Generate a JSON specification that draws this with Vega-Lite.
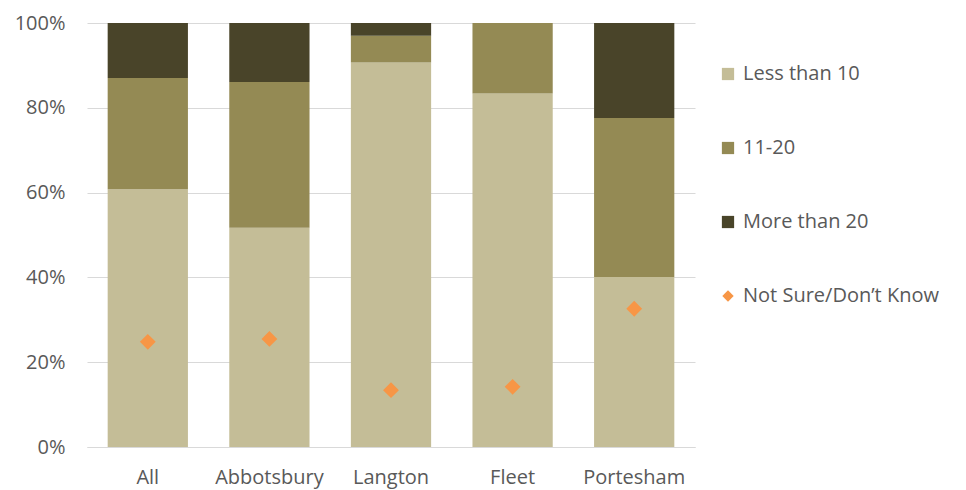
{
  "$schema": "https://vega.github.io/schema/vega-lite/v6.json",
  "autosize": "none",
  "width": 608,
  "height": 424,
  "padding": {"left": 87, "top": 23, "right": 271, "bottom": 43},
  "background": "white",
  "config": {
    "view": {"stroke": null},
    "font": "Open Sans",
    "axis": {"labelFont": "Open Sans", "labelColor": "#595959", "labelFontSize": 20}
  },
  "layer": [
    {
      "data": {"values": [
        {"area": "All", "series": "Less than 10", "k": 1, "value": 0.608},
        {"area": "All", "series": "11-20", "k": 2, "value": 0.262},
        {"area": "All", "series": "More than 20", "k": 3, "value": 0.130},
        {"area": "Abbotsbury", "series": "Less than 10", "k": 1, "value": 0.517},
        {"area": "Abbotsbury", "series": "11-20", "k": 2, "value": 0.344},
        {"area": "Abbotsbury", "series": "More than 20", "k": 3, "value": 0.139},
        {"area": "Langton", "series": "Less than 10", "k": 1, "value": 0.907},
        {"area": "Langton", "series": "11-20", "k": 2, "value": 0.063},
        {"area": "Langton", "series": "More than 20", "k": 3, "value": 0.030},
        {"area": "Fleet", "series": "Less than 10", "k": 1, "value": 0.834},
        {"area": "Fleet", "series": "11-20", "k": 2, "value": 0.166},
        {"area": "Fleet", "series": "More than 20", "k": 3, "value": 0.0},
        {"area": "Portesham", "series": "Less than 10", "k": 1, "value": 0.401},
        {"area": "Portesham", "series": "11-20", "k": 2, "value": 0.375},
        {"area": "Portesham", "series": "More than 20", "k": 3, "value": 0.224}
      ]},
      "mark": {"type": "bar"},
      "encoding": {
        "x": {"field": "area", "type": "nominal", "sort": null,
              "scale": {"paddingInner": 0.34, "paddingOuter": 0.17},
              "axis": {"title": null, "labelAngle": 0, "ticks": false, "domainColor": "#D9D9D9", "labelPadding": 20}},
        "y": {"field": "value", "type": "quantitative", "stack": true,
              "scale": {"domain": [0, 1], "nice": false},
              "axis": {"title": null, "format": ".0%", "values": [0, 0.2, 0.4, 0.6, 0.8, 1], "ticks": false, "domain": false, "gridColor": "#D9D9D9", "labelPadding": 22}},
        "order": {"field": "k", "type": "quantitative", "sort": "ascending"},
        "color": {"field": "series", "type": "nominal",
                  "scale": {"domain": ["Less than 10", "11-20", "More than 20", "Not Sure/Don’t Know"],
                            "range": ["#C4BD97", "#948A54", "#494429", "#F79646"]},
                  "legend": {"title": null, "orient": "none", "legendX": 631, "legendY": 41,
                             "labelFontSize": 20, "labelColor": "#595959", "labelFont": "Open Sans",
                             "labelLimit": 400, "symbolSize": 150, "rowPadding": 54, "labelOffset": 5,
                             "symbolStrokeWidth": 0, "symbolOpacity": 1,
                             "encode": {"symbols": {"update": {
                               "shape": {"signal": "datum.value === 'Not Sure/Don’t Know' ? 'diamond' : 'square'"},
                               "size": {"signal": "datum.value === 'Not Sure/Don’t Know' ? 130 : 150"}
                             }}}}}
      }
    },
    {
      "data": {"values": [
        {"area": "All", "series": "Not Sure/Don’t Know", "value": 0.248},
        {"area": "Abbotsbury", "series": "Not Sure/Don’t Know", "value": 0.255},
        {"area": "Langton", "series": "Not Sure/Don’t Know", "value": 0.134},
        {"area": "Fleet", "series": "Not Sure/Don’t Know", "value": 0.142},
        {"area": "Portesham", "series": "Not Sure/Don’t Know", "value": 0.326}
      ]},
      "mark": {"type": "point", "shape": "diamond", "filled": true, "size": 250, "opacity": 1},
      "encoding": {
        "x": {"field": "area", "type": "nominal", "sort": null},
        "y": {"field": "value", "type": "quantitative"},
        "color": {"field": "series", "type": "nominal"}
      }
    }
  ]
}
